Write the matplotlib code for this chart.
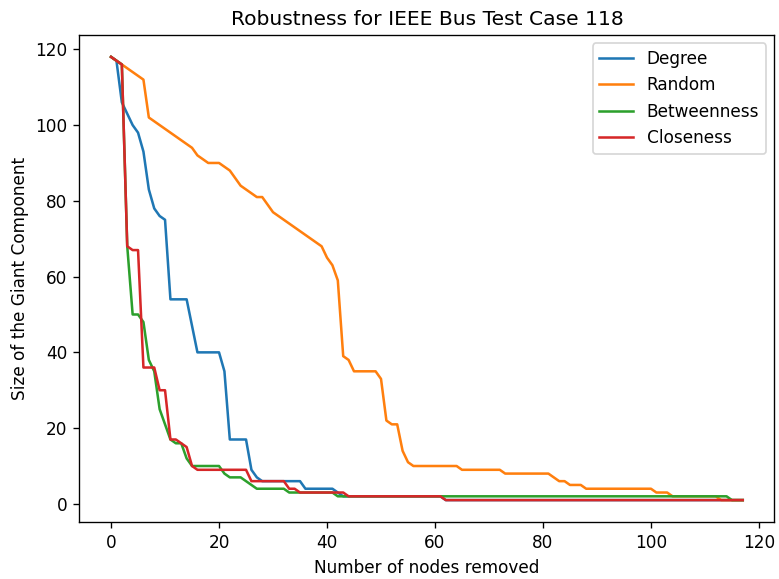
import matplotlib
matplotlib.use("Agg")
import matplotlib.pyplot as plt

nodes_removed = list(range(118))

degree = [118, 117, 106, 103, 100, 98, 93, 83, 78, 76,
          75, 54, 54, 54, 54, 47, 40, 40, 40, 40,
          40, 35, 17, 17, 17, 17, 9, 7, 6, 6,
          6, 6, 6, 6, 6, 6, 4, 4, 4, 4,
          4, 4, 3, 2, 2, 2, 2, 2, 2, 2,
          2, 2, 2, 2, 2, 2, 2, 2, 2, 2,
          2, 2, 1, 1, 1, 1, 1, 1, 1, 1,
          1, 1, 1, 1, 1, 1, 1, 1, 1, 1,
          1, 1, 1, 1, 1, 1, 1, 1, 1, 1,
          1, 1, 1, 1, 1, 1, 1, 1, 1, 1,
          1, 1, 1, 1, 1, 1, 1, 1, 1, 1,
          1, 1, 1, 1, 1, 1, 1, 1]

random_attack = [118, 117, 116, 115, 114, 113, 112, 102, 101, 100,
                 99, 98, 97, 96, 95, 94, 92, 91, 90, 90,
                 90, 89, 88, 86, 84, 83, 82, 81, 81, 79,
                 77, 76, 75, 74, 73, 72, 71, 70, 69, 68,
                 65, 63, 59, 39, 38, 35, 35, 35, 35, 35,
                 33, 22, 21, 21, 14, 11, 10, 10, 10, 10,
                 10, 10, 10, 10, 10, 9, 9, 9, 9, 9,
                 9, 9, 9, 8, 8, 8, 8, 8, 8, 8,
                 8, 8, 7, 6, 6, 5, 5, 5, 4, 4,
                 4, 4, 4, 4, 4, 4, 4, 4, 4, 4,
                 4, 3, 3, 3, 2, 2, 2, 2, 2, 2,
                 2, 2, 2, 1, 1, 1, 1, 1]

betweenness = [118, 117, 116, 68, 50, 50, 48, 38, 35, 25,
               21, 17, 16, 16, 12, 10, 10, 10, 10, 10,
               10, 8, 7, 7, 7, 6, 5, 4, 4, 4,
               4, 4, 4, 3, 3, 3, 3, 3, 3, 3,
               3, 3, 2, 2, 2, 2, 2, 2, 2, 2,
               2, 2, 2, 2, 2, 2, 2, 2, 2, 2,
               2, 2, 2, 2, 2, 2, 2, 2, 2, 2,
               2, 2, 2, 2, 2, 2, 2, 2, 2, 2,
               2, 2, 2, 2, 2, 2, 2, 2, 2, 2,
               2, 2, 2, 2, 2, 2, 2, 2, 2, 2,
               2, 2, 2, 2, 2, 2, 2, 2, 2, 2,
               2, 2, 2, 2, 2, 1, 1, 1]

closeness = [118, 117, 116, 68, 67, 67, 36, 36, 36, 30,
             30, 17, 17, 16, 15, 10, 9, 9, 9, 9,
             9, 9, 9, 9, 9, 9, 6, 6, 6, 6,
             6, 6, 6, 4, 4, 3, 3, 3, 3, 3,
             3, 3, 3, 3, 2, 2, 2, 2, 2, 2,
             2, 2, 2, 2, 2, 2, 2, 2, 2, 2,
             2, 2, 1, 1, 1, 1, 1, 1, 1, 1,
             1, 1, 1, 1, 1, 1, 1, 1, 1, 1,
             1, 1, 1, 1, 1, 1, 1, 1, 1, 1,
             1, 1, 1, 1, 1, 1, 1, 1, 1, 1,
             1, 1, 1, 1, 1, 1, 1, 1, 1, 1,
             1, 1, 1, 1, 1, 1, 1, 1]

series_labels = ["Degree", "Random", "Betweenness", "Closeness"]
series_values = [degree, random_attack, betweenness, closeness]
series_colors = ["#1f77b4", "#ff7f0e", "#2ca02c", "#d62728"]

fig = plt.figure(figsize=(6.4, 579 / 121.72), dpi=121.72)
ax = fig.add_subplot(111)
fig.subplots_adjust(left=0.102, right=0.994, bottom=0.098, top=0.94)

for lab, vals, col in zip(series_labels, series_values, series_colors):
    ax.plot(nodes_removed, vals, color=col, label=lab, linewidth=1.5)

ax.set_title("Robustness for IEEE Bus Test Case 118")
ax.set_xlabel("Number of nodes removed")
ax.set_ylabel("Size of the Giant Component")
ax.set_xticks([0, 20, 40, 60, 80, 100, 120])
ax.set_yticks([0, 20, 40, 60, 80, 100, 120])
ax.legend(loc="upper right")

fig.savefig("out.png", dpi=121.72)
